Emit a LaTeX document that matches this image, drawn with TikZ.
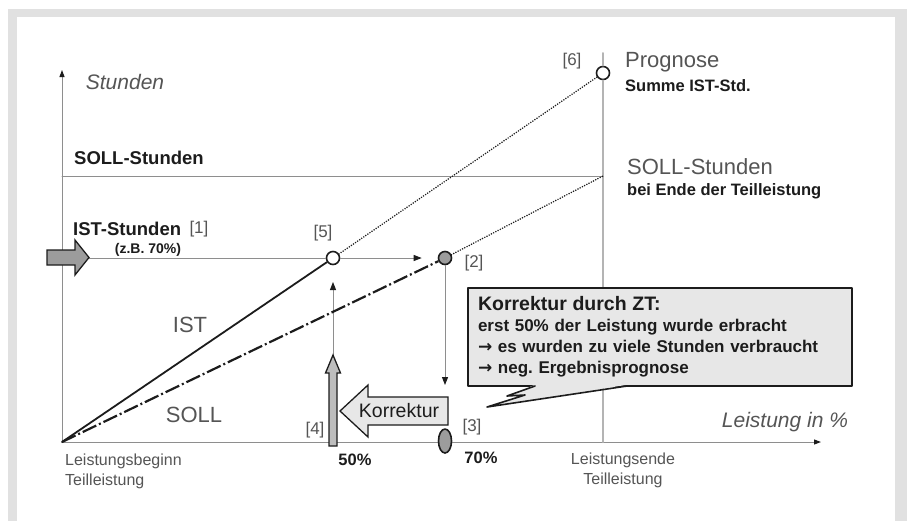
\documentclass[tikz,border=0pt]{standalone}
\usepackage{fontspec}
\setmainfont{Liberation Sans}
\newfontfamily\arrowfont{DejaVu Sans}
\usepackage{tikz}
\usetikzlibrary{arrows.meta,positioning,calc,shapes.geometric}
\definecolor{framegray}{HTML}{E1E1E1}
\definecolor{axisgray}{HTML}{8E8E8E}
\definecolor{endgray}{HTML}{B4B4B4}
\definecolor{ink}{HTML}{1C1C1C}
\definecolor{labelgray}{HTML}{555555}
\definecolor{dotgray}{HTML}{9C9C9C}
\definecolor{midgray}{HTML}{BDBDBD}
\definecolor{softgray}{HTML}{E7E7E7}
\newcommand\pxsize[2]{\fontsize{#1}{#2}\selectfont}
\newcommand\then{{\arrowfont\bfseries →}}
\frenchspacing
\tikzset{
    every picture/.style={line cap=round,line join=round},
    axisline/.style={draw=axisgray,line width=1pt,-{Triangle[length=7pt,width=5pt,color=ink]}},
    guide/.style={draw=axisgray,line width=1pt},
    guidearrow/.style={guide,-{Triangle[length=8pt,width=6pt,color=ink]}},
    endline/.style={draw=endgray,line width=2pt},
    istline/.style={draw=ink,line width=1.8pt},
    sollline/.style={draw=ink,line width=2.2pt,line cap=butt,
      dash pattern=on 15pt off 3pt on 2pt off 3pt},
    trend/.style={draw=ink,line width=1.7pt,dash pattern=on 0pt off 2.5pt},
    opendot/.style={circle,draw=ink,fill=white,line width=1.6pt,
      minimum size=13pt,inner sep=0pt},
    fulldot/.style={opendot,fill=dotgray},
    bigtext/.style={text=labelgray,font=\pxsize{22}{26},inner sep=0pt},
    axistext/.style={text=labelgray,font=\pxsize{21}{25}\itshape,inner sep=0pt},
    headtext/.style={text=ink,font=\pxsize{18.5}{22}\bfseries,inner sep=0pt},
    subtext/.style={text=ink,font=\pxsize{16.5}{20}\bfseries,inner sep=0pt},
    tagtext/.style={text=labelgray,font=\pxsize{17}{20},inner sep=0pt},
    endtext/.style={text=labelgray,font=\pxsize{16}{19.5},align=left,inner sep=0pt},
    fatarrow/.style={draw=ink,line width=1.3pt,line join=miter},
    calloutbox/.style={draw=ink,fill=softgray,line width=1.6pt,
      minimum width=384pt,minimum height=98pt,text width=364pt,inner xsep=10pt,
      align=left,font=\pxsize{17}{21}\bfseries,text=ink}
}

\begin{document}
\begin{tikzpicture}[x=1pt,y=-1pt]
  \useasboundingbox (0,0) rectangle (907,520);
  \fill[framegray] (8,9) rectangle (907,530);
  \fill[white] (17,17) rectangle (895,530);
  \coordinate (o) at (62,442);
  \coordinate (ytop) at (62,70);
  \coordinate (xend) at (821,442);
  \coordinate (endtop) at (603,53);
  \coordinate (sollend) at (603,176);
  \coordinate (istin) at (62,258);
  \coordinate (down2) at (445,385);
  \coordinate (up5) at (333,356);
  \coordinate (tip5) at (333,282);
  \node[opendot] (c5) at (333,258){};
  \node[fulldot] (c2) at (445,258){};
  \node[opendot] (c6) at (603,73){};
  \draw[axisline] (o) -- (ytop);
  \draw[axisline] (o) -- (xend);
  \draw[endline] (endtop) -- (c6);
  \draw[endline] (c6) -- (c6 |- o);
  \draw[guide] (o |- sollend) -- (sollend);
  \draw[guide] (istin) -- (c5);
  \draw[guidearrow,shorten >=16pt] (c5) -- (c2);
  \draw[guidearrow] (c2) -- (down2);
  \draw[guidearrow] (up5) -- (tip5);
  \draw[trend] (c5) -- (c6);
  \draw[trend] (c2) -- (sollend);
  \draw[istline] (o) -- (c5);
  \draw[sollline] (o) -- (c2);
  \node[fulldot,ellipse,minimum width=13pt,minimum height=24pt] (c3) at (445,441){};

  \draw[fatarrow,fill=dotgray] (47,250) -- (75,250) -- (75,240) -- (89,257.5)
    -- (75,275) -- (75,265) -- (47,265) -- cycle;
  \draw[fatarrow,fill=midgray] (329,446) -- (329,373) -- (325.5,373) -- (333,355)
    -- (340.5,373) -- (337,373) -- (337,446) -- cycle;
  \draw[fatarrow,fill=softgray] (448,397) -- (368,397) -- (368,385) -- (340,411)
    -- (368,437) -- (368,425) -- (448,425) -- cycle;
  \node[text=ink,font=\pxsize{19.5}{22},inner sep=0pt] (korr) at (399,411) {Korrektur};

  \node[calloutbox] (zt) at (660,337) {{\pxsize{19.5}{21}Korrektur durch ZT:}\\
    erst 50\% der Leistung wurde erbracht\\
    \then\ es wurden zu viele Stunden verbraucht\\
    \then\ neg. Ergebnisprognose};
  \fill[softgray] (535,384.8) -- (507,396) -- (525,395) -- (487,407) -- (627,384.8) -- cycle;
  \draw[fatarrow,line width=1.6pt,line join=round] (535,386) -- (507,396) -- (525,395)
    -- (487,407) -- (627,386);

  \node[axistext] (ylab) at (125,82) {Stunden};
  \node[axistext] (xlab) at (785,422) {Leistung in \%};
  \node[headtext,anchor=west] (sollstd) at (74,158) {SOLL-Stunden};
  \node[headtext,anchor=west] (iststd) at (73,229) {IST-Stunden};
  \node[tagtext,right=8pt of iststd] (tag1) {[1]};
  \node[subtext,font=\pxsize{14}{17}\bfseries] (zb) at (148,250) {(z.B. 70\%)};
  \node[tagtext] (tag5) at (323,233) {[5]};
  \node[tagtext] (tag2) at (474,263) {[2]};
  \node[tagtext] (tag6) at (572,61) {[6]};
  \node[bigtext,anchor=west] (prog) at (625,62) {Prognose};
  \node[subtext,anchor=west] (summe) at (625,86) {Summe IST-Std.};
  \node[bigtext,anchor=west] (sollziel) at (627,167) {SOLL-Stunden};
  \node[subtext,anchor=west] (beiende) at (627,191) {bei Ende der Teilleistung};
  \node[bigtext] (istlab) at (190,325) {IST};
  \node[bigtext] (solllab) at (194,415) {SOLL};
  \node[tagtext] (tag4) at (315,430) {[4]};
  \node[subtext] (p50) at (355,460) {50\%};
  \node[tagtext] (tag3) at (472,427) {[3]};
  \node[subtext] (p70) at (481,458) {70\%};
  \node[endtext,anchor=north west] (beginn) at (65,454) {Leistungsbeginn\\Teilleistung};
  \node[endtext,align=center,anchor=north] (ende) at (623,453) {Leistungsende\\Teilleistung};
\end{tikzpicture}
\end{document}
